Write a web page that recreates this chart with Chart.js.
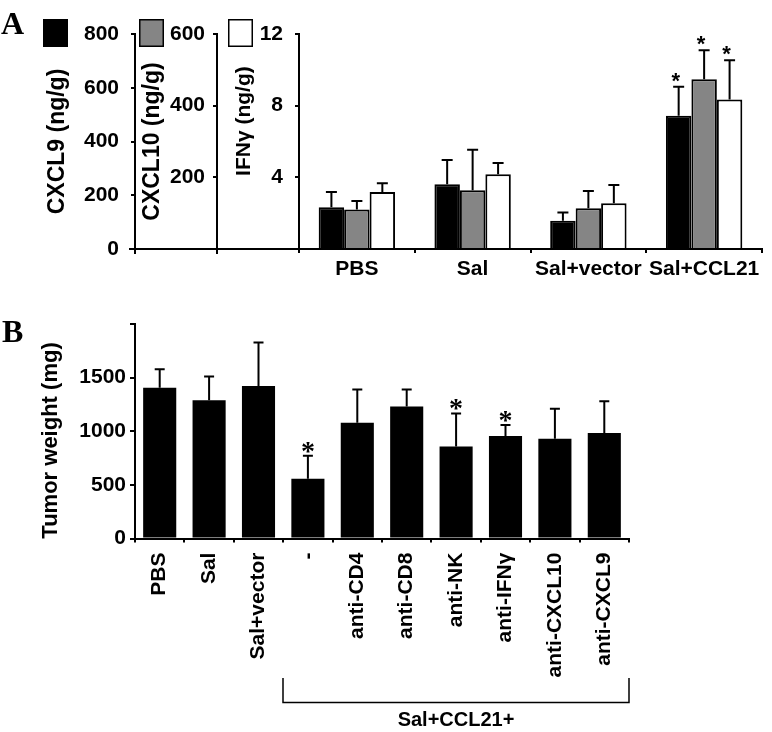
<!DOCTYPE html>
<html><head><meta charset="utf-8">
<script src="https://cdn.jsdelivr.net/npm/chart.js@4.4.1/dist/chart.umd.min.js"></script>
<style>
html,body{margin:0;padding:0;background:#fff;}
#wrap{position:relative;width:772px;height:732px;overflow:hidden;background:#fff;}
canvas{position:absolute;left:0;}
#cA{top:0;} #cB{top:300px;}
.pl{position:absolute;font-family:'Liberation Serif','Times New Roman',serif;font-weight:bold;font-size:32px;line-height:1;color:#000;}
</style></head><body>
<div id="wrap">
<canvas id="cA" width="772" height="300"></canvas>
<canvas id="cB" width="772" height="432"></canvas>
<div class="pl" style="left:1px;top:7px">A</div>
<div class="pl" style="left:2px;top:315px">B</div>
</div>
<script>
// ---------- Panel A data ----------
const categoriesA = ['PBS', 'Sal', 'Sal+vector', 'Sal+CCL21'];
const cxcl9 = [155, 241, 105, 496];
const cxcl9Err = [57, 90, 31, 108];
const cxcl10 = [110, 164, 114, 474];
const cxcl10Err = [24, 113, 48, 81];
const ifng = [3.18, 4.17, 2.55, 8.35];
const ifngErr = [0.49, 0.63, 1.02, 2.18];
const starsA = [false, false, false, true];
const ticksCXCL9 = [0, 200, 400, 600, 800];
const ticksCXCL10 = [200, 400, 600];
const ticksIFNG = [4, 8, 12];

// ---------- Panel B data ----------
const categoriesB = ['PBS', 'Sal', 'Sal+vector', '-', 'anti-CD4', 'anti-CD8', 'anti-NK', 'anti-IFN\u03b3', 'anti-CXCL10', 'anti-CXCL9'];
const tumorWeight = [1407, 1289, 1423, 557, 1080, 1230, 859, 956, 931, 983];
const tumorErr = [172, 221, 405, 215, 309, 159, 308, 103, 280, 297];
const starsB = [false, false, false, true, false, false, true, true, false, false];
const ticksB = [0, 500, 1000, 1500];
const bracketStart = 3;
const bracketLabel = 'Sal+CCL21+';

const FONT = "'Liberation Sans', Arial, Helvetica, sans-serif";
Chart.defaults.font.family = FONT;
Chart.defaults.color = '#000';

function tickCb(list) {
  return function (v) { return list.indexOf(v) >= 0 ? String(v) : ''; };
}

function drawErrors(chart, capHalf) {
  const ctx = chart.ctx;
  ctx.save();
  ctx.strokeStyle = '#000';
  ctx.lineWidth = 2;
  chart.data.datasets.forEach((ds, i) => {
    const meta = chart.getDatasetMeta(i);
    const ys = chart.scales[meta.yAxisID];
    meta.data.forEach((el, j) => {
      const top = ys.getPixelForValue(ds.data[j] + ds.errors[j]);
      ctx.beginPath();
      ctx.moveTo(el.x, el.y);
      ctx.lineTo(el.x, top);
      ctx.moveTo(el.x - capHalf, top);
      ctx.lineTo(el.x + capHalf, top);
      ctx.stroke();
      if (ds.stars[j]) {
        ctx.fillStyle = '#000';
        ctx.textAlign = 'center';
        ctx.textBaseline = 'alphabetic';
        if (chart.canvas.id === 'cA') {
          ctx.font = "bold 22px " + FONT;
          ctx.fillText('*', el.x - 3, top + 1);
        } else {
          ctx.font = "bold 28px 'Liberation Serif', 'Times New Roman', serif";
          ctx.fillText('*', el.x, top + 4);
        }
      }
    });
  });
  ctx.restore();
}

const panelAPlugin = {
  id: 'panelA',
  afterDatasetsDraw(chart) {
    drawErrors(chart, 5.5);
  },
  afterDraw(chart) {
    const ctx = chart.ctx;
    const xs = chart.scales.x;
    const s9 = chart.scales.y9, s10 = chart.scales.y10, sI = chart.scales.yI;
    ctx.save();
    ctx.strokeStyle = '#000';
    ctx.lineWidth = 2;
    const y0 = Math.round(xs.top);
    ctx.beginPath();
    ctx.moveTo(s9.right - 6, y0);
    ctx.lineTo(xs.left, y0);
    [s9.right, s10.right].forEach(x => { ctx.moveTo(Math.round(x), y0); ctx.lineTo(Math.round(x), y0 + 5); });
    ctx.stroke();
    // legend squares
    const top = chart.chartArea.top - 15;
    const boxes = [[s9.left + 3, 0], [s10.left + 4, 1], [sI.left + 11, 2]];
    ctx.lineWidth = 1.5;
    boxes.forEach(([x, di]) => {
      const ds = chart.data.datasets[di];
      ctx.fillStyle = ds.backgroundColor;
      ctx.fillRect(x, top, 25, 28);
      ctx.strokeRect(x + 0.75, top + 0.75, 23.5, 26.5);
    });
    ctx.restore();
  }
};

const panelBPlugin = {
  id: 'panelB',
  afterDatasetsDraw(chart) {
    drawErrors(chart, 5);
  },
  afterDraw(chart) {
    const ctx = chart.ctx;
    const xs = chart.scales.x;
    const half = (xs.getPixelForValue(1) - xs.getPixelForValue(0)) / 2;
    const x1 = Math.round(xs.getPixelForValue(bracketStart) - half);
    const x2 = Math.round(xs.getPixelForValue(categoriesB.length - 1) + half);
    const yt = xs.top + 139.5, yb = xs.top + 164;
    ctx.save();
    ctx.strokeStyle = '#000';
    ctx.lineWidth = 1.5;
    ctx.beginPath();
    ctx.moveTo(x1, yt); ctx.lineTo(x1, yb); ctx.lineTo(x2, yb); ctx.lineTo(x2, yt);
    ctx.stroke();
    ctx.fillStyle = '#000';
    ctx.font = "bold 20px " + FONT;
    ctx.textAlign = 'center';
    ctx.textBaseline = 'middle';
    ctx.fillText(bracketLabel, (x1 + x2) / 2, xs.top + 182);
    ctx.restore();
  }
};

const yAxisCommon = (fitW) => ({
  position: 'left',
  min: 0,
  grid: { drawOnChartArea: false, drawTicks: true, tickLength: 4, color: '#000', lineWidth: 2 },
  border: { display: true, color: '#000', width: 2 },
  afterFit(s) { s.width = fitW; }
});

new Chart(document.getElementById('cA'), {
  type: 'bar',
  data: {
    labels: categoriesA,
    datasets: [
      { label: 'CXCL9', data: cxcl9, errors: cxcl9Err, stars: starsA, yAxisID: 'y9', backgroundColor: '#000000', borderColor: '#000', borderWidth: 2 },
      { label: 'CXCL10', data: cxcl10, errors: cxcl10Err, stars: starsA, yAxisID: 'y10', backgroundColor: '#858585', borderColor: '#000', borderWidth: 2 },
      { label: 'IFN\u03b3', data: ifng, errors: ifngErr, stars: starsA, yAxisID: 'yI', backgroundColor: '#ffffff', borderColor: '#000', borderWidth: 2 }
    ]
  },
  options: {
    responsive: false, animation: false, devicePixelRatio: 1,
    layout: { padding: { left: 40, right: 10, top: 34, bottom: 0 } },
    categoryPercentage: 0.66, barPercentage: 1.0,
    plugins: { legend: { display: false }, tooltip: { enabled: false } },
    scales: {
      x: {
        grid: { drawOnChartArea: false, drawTicks: true, tickLength: 4, color: '#000', lineWidth: 2, offset: true },
        border: { display: true, color: '#000', width: 2 },
        ticks: { font: { size: 21, weight: 'bold' }, padding: 4, maxRotation: 0, autoSkip: false },
        afterFit(s) { s.height = 51; }
      },
      y9: Object.assign(yAxisCommon(95), {
        weight: 3, max: 800,
        ticks: { stepSize: 200, font: { size: 21, weight: 'bold' }, padding: 12, callback: tickCb(ticksCXCL9) },
        title: { display: true, text: 'CXCL9 (ng/g)', font: { size: 23, weight: 'bold' }, padding: { top: 4, bottom: 0 } }
      }),
      y10: Object.assign(yAxisCommon(82), {
        weight: 2, max: 600,
        ticks: { stepSize: 200, font: { size: 21, weight: 'bold' }, padding: 8, callback: tickCb(ticksCXCL10) },
        title: { display: true, text: 'CXCL10 (ng/g)', font: { size: 23, weight: 'bold' }, padding: { top: 4, bottom: 0 } }
      }),
      yI: Object.assign(yAxisCommon(82), {
        weight: 1, max: 12,
        ticks: { stepSize: 4, font: { size: 21, weight: 'bold' }, padding: 12, callback: tickCb(ticksIFNG) },
        title: { display: true, text: '\u00a0\u00a0\u00a0\u00a0\u00a0\u00a0\u00a0IFN\u03b3 (ng/g)', font: { size: 21, weight: 'bold' }, padding: { top: 15, bottom: 0 } }
      })
    }
  },
  plugins: [panelAPlugin]
});

new Chart(document.getElementById('cB'), {
  type: 'bar',
  data: {
    labels: categoriesB,
    datasets: [
      { label: 'Tumor weight', data: tumorWeight, errors: tumorErr, stars: starsB, yAxisID: 'y', backgroundColor: '#000000', borderColor: '#000', borderWidth: 0 }
    ]
  },
  options: {
    responsive: false, animation: false, devicePixelRatio: 1,
    layout: { padding: { left: 34, right: 143, top: 24, bottom: 53.4 } },
    categoryPercentage: 0.67, barPercentage: 1.0,
    plugins: { legend: { display: false }, tooltip: { enabled: false } },
    scales: {
      x: {
        grid: { drawOnChartArea: false, drawTicks: true, tickLength: 4, color: '#000', lineWidth: 2, offset: true },
        border: { display: true, color: '#000', width: 2 },
        ticks: { font: { size: 21, weight: 'bold' }, padding: 10, minRotation: 90, maxRotation: 90, autoSkip: false },
        afterFit(s) { s.height = 140; }
      },
      y: {
        position: 'left', min: 0, max: 2000,
        grid: { drawOnChartArea: false, drawTicks: true, tickLength: 5, color: '#000', lineWidth: 2 },
        border: { display: true, color: '#000', width: 2 },
        ticks: { stepSize: 500, font: { size: 21, weight: 'bold' }, padding: 4, callback: tickCb(ticksB) },
        title: { display: true, text: 'Tumor weight (mg)\u00a0\u00a0\u00a0', font: { size: 22, weight: 'bold' }, padding: { top: 4, bottom: 0 } },
        afterFit(s) { s.width = 101; }
      }
    }
  },
  plugins: [panelBPlugin]
});
</script>
</body></html>
